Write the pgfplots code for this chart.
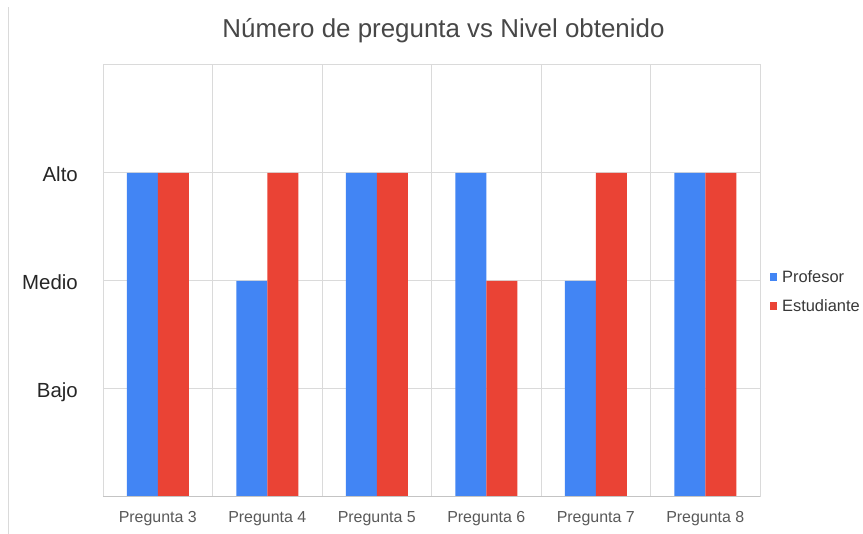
\documentclass[border=0pt]{standalone}
\usepackage{pgfplots}
\pgfplotsset{compat=1.18}
\usepackage{fontspec}
\setmainfont{Liberation Sans}
\definecolor{gblue}{HTML}{4285F4}
\definecolor{gred}{HTML}{EA4335}
\definecolor{gridc}{HTML}{DADADA}
\definecolor{basec}{HTML}{C4C4C4}
\begin{document}
\begin{tikzpicture}[x=1bp,y=1bp]
\useasboundingbox[fill=white] (0,0) rectangle (863,534);
\draw[gridc, line width=1bp] (8.5,0) -- (8.5,527);
\node[text=black!72, font=\fontsize{26}{30}\selectfont, anchor=base, inner sep=0pt] at (443.5,496) {Número de pregunta vs Nivel obtenido};
\begin{axis}[
  at={(103bp,37bp)}, anchor=south west,
  scale only axis, width=657bp, height=432bp,
  ybar=0pt, bar width=31bp,
  xmin=-0.5, xmax=5.5, ymin=0, ymax=4,
  xtick={0,...,5},
  xticklabels={Pregunta 3,Pregunta 4,Pregunta 5,Pregunta 6,Pregunta 7,Pregunta 8},
  minor xtick={-0.5,0.5,...,5.5},
  xminorgrids,
  ytick={1,2,3},
  yticklabels={Bajo,Medio,Alto},
  ymajorgrids,
  major tick length=0pt, minor tick length=0pt,
  grid style={gridc, line width=1bp},
  minor grid style={gridc, line width=1bp},
  axis line style={gridc, line width=1bp},
  xticklabel style={font=\fontsize{16}{18}\selectfont, text=black!65, anchor=base, inner sep=0pt, yshift=-25.5bp},
  yticklabel style={font=\fontsize{20.5}{22}\selectfont, text=black!85, anchor=base east, inner sep=0pt, xshift=-25bp, yshift=-9bp},
  legend style={at={(1.015,0.475)}, anchor=west, draw=none, fill=none, inner sep=0pt,
    font=\fontsize{16.5}{19}\selectfont, text=black!78, row sep=14bp, column sep=4bp,
    nodes={inner sep=1bp}},
  legend cell align=left,
  legend image code/.code={\fill[#1] (0bp,-4bp) rectangle (7bp,4bp);},
]
\addplot[fill=gblue, draw=none] coordinates {(0,3) (1,2) (2,3) (3,3) (4,2) (5,3)};
\addplot[fill=gred, draw=none] coordinates {(0,3) (1,3) (2,3) (3,2) (4,3) (5,3)};
\legend{Profesor,Estudiante}
\draw[basec, line width=1bp] (axis cs:-0.5,0) -- (axis cs:5.5,0);
\end{axis}
\end{tikzpicture}
\end{document}
